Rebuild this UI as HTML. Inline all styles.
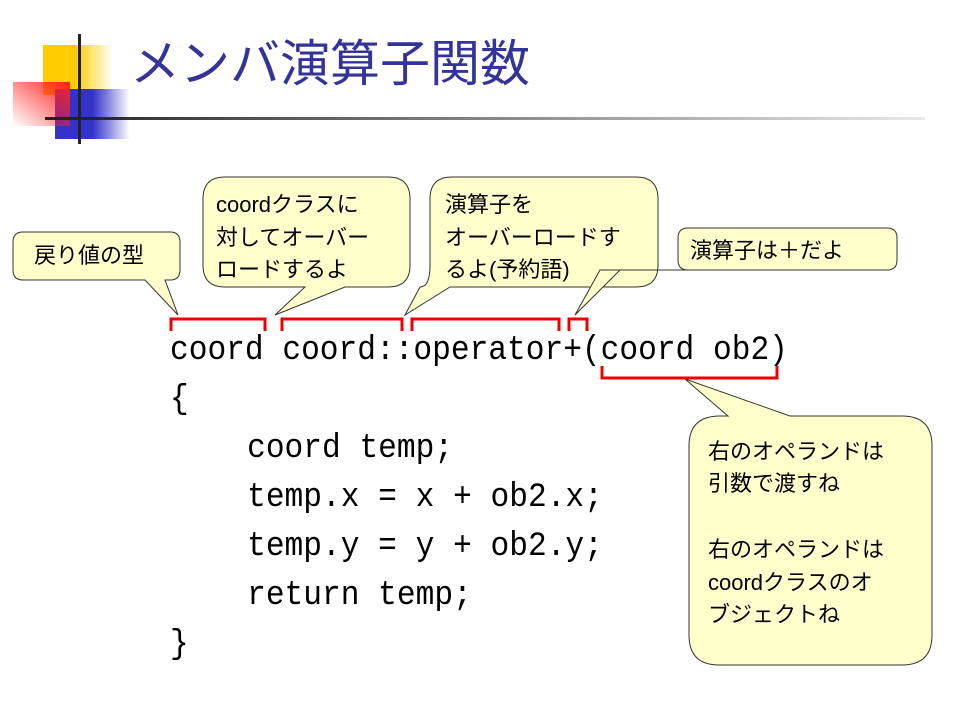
<!DOCTYPE html>
<html><head><meta charset="utf-8"><style>
body{margin:0;background:#fff;}
svg{display:block;}
.c{font-family:"Liberation Sans","Noto Sans CJK JP",sans-serif;font-size:22px;fill:#000;}
.code{font-family:"Liberation Mono","Noto Sans CJK JP",monospace;font-size:34px;fill:#000;}
</style></head><body>
<svg width="960" height="720" viewBox="0 0 960 720" xmlns="http://www.w3.org/2000/svg">
<defs>
<linearGradient id="gy" x1="0" x2="1"><stop offset="0.45" stop-color="#ffcc00"/><stop offset="1" stop-color="#ffcc00" stop-opacity="0"/></linearGradient>
<linearGradient id="gb" x1="0" x2="1"><stop offset="0.5" stop-color="#3333cc"/><stop offset="1" stop-color="#3333cc" stop-opacity="0"/></linearGradient>
<linearGradient id="gr" x1="1" y1="0" x2="0" y2="1"><stop offset="0" stop-color="#ff2020"/><stop offset="1" stop-color="#ff2020" stop-opacity="0"/></linearGradient>
<linearGradient id="gl" x1="0" x2="1"><stop offset="0" stop-color="#222"/><stop offset="1" stop-color="#222" stop-opacity="0.1"/></linearGradient>
</defs>
<rect x="43" y="45" width="70" height="50" fill="url(#gy)"/>
<rect x="55" y="89" width="75" height="50" fill="url(#gb)"/>
<rect x="13" y="82" width="57" height="44" fill="url(#gr)"/>
<rect x="78" y="34" width="3" height="110" fill="#222"/>
<rect x="45" y="117" width="880" height="3" fill="url(#gl)"/>
<text x="130" y="81" font-family="Liberation Sans,'Noto Sans CJK JP',sans-serif" font-size="50" fill="#333399">メンバ演算子関数</text>

<g fill="#ffffcc" stroke="#333" stroke-width="1">
<path d="M23,232 H170 Q180,232 180,242 V270 Q180,280 170,280 H165 L178,315 L145,280 H23 Q13,280 13,270 V242 Q13,232 23,232 Z"/>
<path d="M225,177 H388 Q410,177 410,199 V265 Q410,287 388,287 H345 L275,315 L305,287 H225 Q203,287 203,265 V199 Q203,177 225,177 Z"/>
<path d="M452,177 H636 Q658,177 658,199 V265 Q658,287 636,287 H450 L405,315 L420,287 Q430,287 430,265 V199 Q430,177 452,177 Z"/>
<path d="M688,228 H887 Q897,228 897,238 V260 Q897,270 887,270 H620 L575,315 L600,270 H688 Q678,270 678,260 V238 Q678,228 688,228 Z"/>
<path d="M720,416 H728 L685,379 L790,416 H902 Q932,416 932,446 V635 Q932,665 902,665 H719 Q689,665 689,635 V446 Q689,416 720,416 Z"/>
</g>
<text class="c" x="34" y="263">戻り値の型</text>
<text class="c" x="216" y="212">coordクラスに</text>
<text class="c" x="216" y="245">対してオーバー</text>
<text class="c" x="216" y="277">ロードするよ</text>
<text class="c" x="445" y="212">演算子を</text>
<text class="c" x="445" y="245">オーバーロードす</text>
<text class="c" x="445" y="277">るよ(予約語)</text>
<text class="c" x="690" y="258">演算子は＋だよ</text>
<text class="c" x="708" y="459">右のオペランドは</text>
<text class="c" x="708" y="491">引数で渡すね</text>
<text class="c" x="708" y="557">右のオペランドは</text>
<text class="c" x="708" y="590">coordクラスのオ</text>
<text class="c" x="708" y="622">ブジェクトね</text>

<g fill="none" stroke="#ee0000" stroke-width="3">
<path d="M171,331 V319 H265 V331"/>
<path d="M282,331 V319 H402 V331"/>
<path d="M412,331 V319 H559 V331"/>
<path d="M569,331 V319 H587 V331"/>
<path d="M602,366 V378 H777 V366"/>
</g>
<g class="code" transform="translate(170,0) scale(0.918,1)">
<text x="0" y="359">coord coord::operator+(coord ob2)</text>
<text x="0" y="408">{</text>
<text x="84" y="457">coord temp;</text>
<text x="84" y="506">temp.x = x + ob2.x;</text>
<text x="84" y="555">temp.y = y + ob2.y;</text>
<text x="84" y="604">return temp;</text>
<text x="0" y="653">}</text>
</g>
</svg>
</body></html>
